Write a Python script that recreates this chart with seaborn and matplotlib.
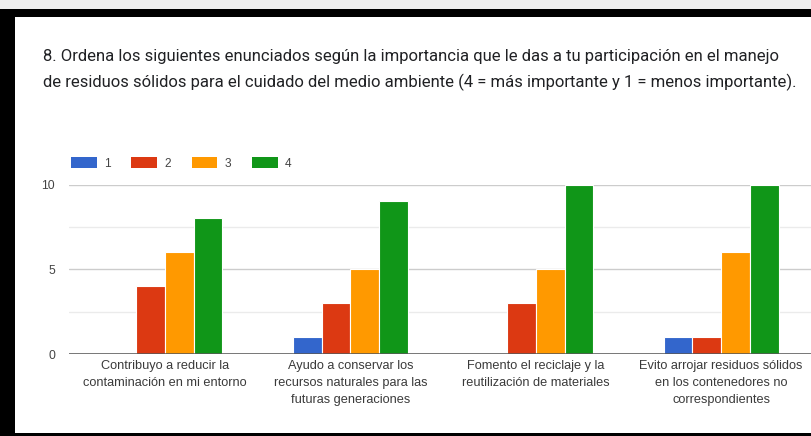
import matplotlib
matplotlib.use("Agg")
import matplotlib.pyplot as plt
from matplotlib.patches import Rectangle
import seaborn as sns
import pandas as pd

# ---- data ----
categories = [
    "Contribuyo a reducir la\ncontaminación en mi entorno",
    "Ayudo a conservar los\nrecursos naturales para las\nfuturas generaciones",
    "Fomento el reciclaje y la\nreutilización de materiales",
    "Evito arrojar residuos sólidos\nen los contenedores no\ncorrespondientes",
]
series_names = ["1", "2", "3", "4"]
values_1 = [0, 1, 0, 1]
values_2 = [4, 3, 3, 1]
values_3 = [6, 5, 5, 6]
values_4 = [8, 9, 10, 10]
y_ticks = [0, 5, 10]
title_line1 = ("8. Ordena los siguientes enunciados según la importancia que le das a tu "
               "participación en el manejo")
title_line2 = ("de residuos sólidos para el cuidado del medio ambiente "
               "(4 = más importante y 1 = menos importante).")

colors = ["#3366cc", "#dc3912", "#ff9900", "#109618"]

rows = []
for name, vals in zip(series_names, [values_1, values_2, values_3, values_4]):
    for c, v in zip(categories, vals):
        rows.append({"cat": c, "serie": name, "val": v})
df = pd.DataFrame(rows)

sns.set_style("white")
plt.rcParams["font.family"] = ["Liberation Sans", "DejaVu Sans"]

W, H = 812, 436
fig = plt.figure(figsize=(W / 100, H / 100), dpi=100)
fig.patch.set_facecolor("white")

# axes geometry (pixels)
ax_left, ax_right = 69, 812
ax_bottom_px, ax_top_px = 354, 184.5
ax = fig.add_axes([ax_left / W, (H - ax_bottom_px) / H,
                   (ax_right - ax_left) / W, (ax_bottom_px - ax_top_px) / H])

sns.barplot(data=df, x="cat", y="val", hue="serie", hue_order=series_names,
            order=categories, palette=colors, width=0.62, edgecolor="white",
            linewidth=0.8, ax=ax, saturation=1)

ax.set_xlim(-0.518, 3.49)
ax.set_ylim(0, 10)
ax.set_xlabel("")
ax.set_ylabel("")
for s in ax.spines.values():
    s.set_visible(False)

ax.set_yticks(y_ticks)
ax.set_yticks([2.5, 7.5], minor=True)
ax.set_yticklabels([str(t) for t in y_ticks])
ax.set_axisbelow(True)
ax.grid(which="major", axis="y", color="#cccccc", linewidth=1)
ax.grid(which="minor", axis="y", color="#ebebeb", linewidth=1)
ax.grid(which="major", axis="x", visible=False)
ax.axhline(0, color="#555555", linewidth=1.1, zorder=5)
ax.tick_params(axis="y", which="both", length=0, pad=10, labelsize=8.8,
               labelcolor="#444444")
ax.tick_params(axis="x", length=0, pad=4.5, labelsize=9.2, labelcolor="#3a3a3a")
for lbl in ax.get_xticklabels():
    lbl.set_linespacing(1.52)
    lbl.set_ha("center")

# legend
handles, labels = ax.get_legend_handles_labels()
for h in handles:
    h.set_edgecolor("none")
ax.legend(handles, labels, ncol=4, loc="center left",
          bbox_to_anchor=(71 / W, (H - 163.5) / H), bbox_transform=fig.transFigure,
          frameon=False, fontsize=8.6, handlelength=2.15, handleheight=0.95,
          handletextpad=0.6, columnspacing=1.75, borderpad=0, borderaxespad=0,
          labelcolor="#444444")

# title
fig.text(43 / W, (H - 61) / H, title_line1, fontsize=12, family=["Roboto", "DejaVu Sans"],
         color="#202124", va="baseline", ha="left")
fig.text(43 / W, (H - 87) / H, title_line2, fontsize=12, family=["Roboto", "DejaVu Sans"],
         color="#202124", va="baseline", ha="left")

# screenshot frame
def frect(x0, y0, x1, y1, color):
    fig.patches.append(Rectangle((x0 / W, (H - y1) / H), (x1 - x0) / W, (y1 - y0) / H,
                                 transform=fig.transFigure, facecolor=color,
                                 edgecolor="none", zorder=10))

frect(0, 0, W, 9, "#efefef")
frect(0, 9, W, 17, "black")
frect(0, 9, 15, H, "black")
frect(0, 433, W, H, "black")

fig.savefig("out.png", dpi=100)
